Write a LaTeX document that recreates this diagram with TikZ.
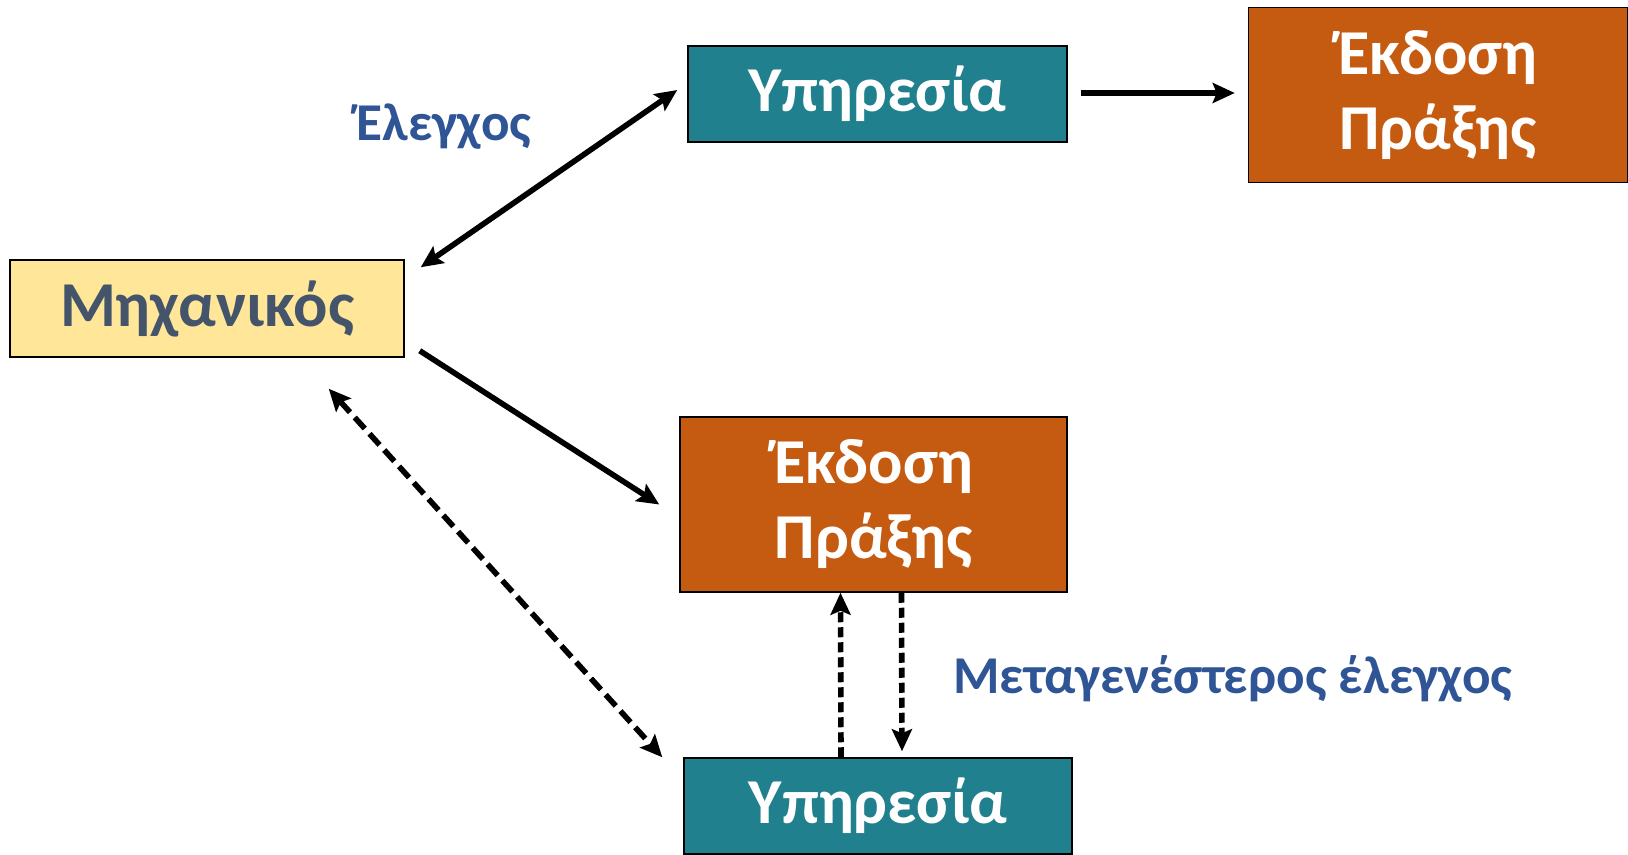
\documentclass[tikz,border=0pt]{standalone}
\usepackage{fontspec}
\setmainfont{Carlito}
\usetikzlibrary{arrows.meta}
\definecolor{srvteal}{HTML}{21808D}
\definecolor{actorange}{HTML}{C55A11}
\definecolor{engyellow}{HTML}{FFE699}
\definecolor{engtext}{HTML}{44546A}
\definecolor{lblblue}{HTML}{2F5597}

\begin{document}
\begin{tikzpicture}[x=0.5pt, y=-0.5pt,
     >={Stealth[length=11pt, width=10pt, inset=2pt]},
     box/.style = {draw=black, line width=0.75pt, inner sep=0pt, align=center,
                   font=\bfseries\fontsize{32}{37.5}\selectfont},
     srv/.style = {box, fill=srvteal, text=white},
     act/.style = {box, fill=actorange, text=white,
                   minimum width=192pt, minimum height=87.5pt},
     eng/.style = {box, fill=engyellow, text=engtext,
                   minimum width=197pt, minimum height=48.5pt},
     lbl/.style = {text=lblblue, inner sep=0pt,
                   font=\bfseries\fontsize{26.6}{30}\selectfont},
    flow/.style = {line width=2.8pt},
    back/.style = {line width=2.8pt, dash pattern=on 7.5pt off 3.5pt},
   check/.style = {line width=2.8pt, dash pattern=on 5pt off 2.5pt}
                    ]
\useasboundingbox (0,0) rectangle (1628,855);
\node (srvA) [srv, minimum width=189.5pt, minimum height=48pt]
                                      at (877.5,94)   {Υπηρεσία};
\node (actA) [act, minimum width=189.5pt]
                                      at (1438,95)    {Έκδοση\\Πράξης};
\node (eng)  [eng]                    at (207,308.5)  {Μηχανικός};
\node (actB) [act, minimum width=193.5pt]
                                      at (873.5,504.5) {Έκδοση\\Πράξης};
\node (srvB) [srv, minimum width=194pt, minimum height=48pt]
                                      at (878,806)    {Υπηρεσία};
\node (chk)  [lbl]                    at (444,127)    {Έλεγχος};
\node (late) [lbl, anchor=west]       at (953,679)    {Μεταγενέστερος έλεγχος};
% solid arrows
\draw[flow,<->] ([shift={(16,8)}]eng.north east) -- ([shift={(-10,-4)}]srvA.west);
\draw[flow,->]  ([shift={(15,-7)}]eng.south east) -- ([shift={(-20,0)}]actB.west);
\draw[flow,->,line width=3.2pt] ([shift={(13,-1)}]srvA.east) -- ([shift={(-13,-2)}]actA.west);
% dashed arrows
\draw[back,<->] ([shift={(-76,31)}]eng.south east) -- ([shift={(-21,0)}]srvB.north west);
\draw[check,->] ([shift={(-37,0)}]srvB.north) -- ([shift={(-33,0)}]actB.south);
\draw[check,->] ([shift={(28,0)}]actB.south) -- ([shift={(24,-6)}]srvB.north);
\end{tikzpicture}
\end{document}
